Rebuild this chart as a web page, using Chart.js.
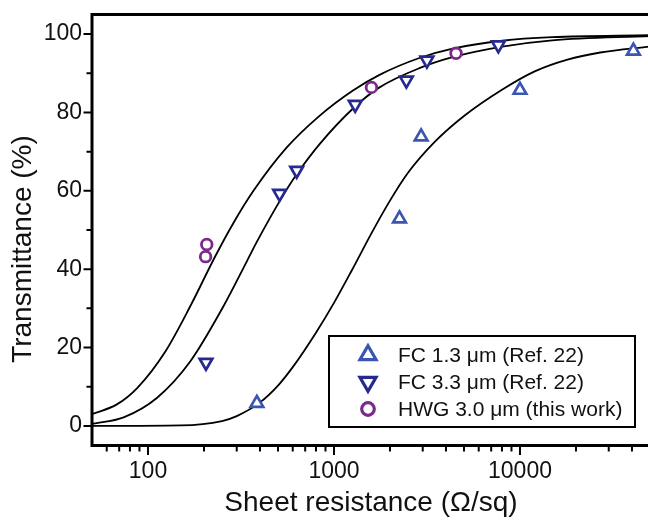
<!DOCTYPE html>
<html>
<head>
<meta charset="utf-8">
<script src="https://cdn.jsdelivr.net/npm/chart.js@4/dist/chart.umd.min.js"></script>
<style>
  html, body { margin: 0; padding: 0; background: #fff; overflow: hidden; }
  #wrap { width: 660px; height: 520px; }
</style>
</head>
<body>
<div id="wrap"><canvas id="chart" width="660" height="520"></canvas></div>
<script>
const FONT = '"Liberation Sans", Arial, Helvetica, sans-serif';

// --- Measured points (sheet resistance in ohm/sq, transmittance in %) ---
const fc13R = [385, 2250, 2940, 10000, 40700];
const fc13T = [5.8, 52.9, 73.8, 85.7, 95.7];

const fc33R = [205, 510, 630, 1300, 2450, 3160, 7650];
const fc33T = [16.2, 59.3, 65.2, 82.0, 88.2, 93.3, 97.2];

const hwgR = [204, 207, 1590, 4530];
const hwgT = [43.2, 46.3, 86.4, 95.1];

// --- Fitted curves ---
const fitAR = [50, 68, 88, 124, 169, 230, 288, 369, 556, 839, 1265, 1757, 2877, 4340, 8035, 14900, 50000];
const fitAT = [3.0, 5.5, 9.8, 19.0, 30.6, 43.3, 51.8, 60.0, 71.0, 79.2, 85.6, 89.6, 93.9, 96.3, 98.3, 99.2, 99.7];

const fitBR = [50, 74, 112, 169, 255, 340, 384, 523, 630, 839, 1291, 1757, 2877, 4340, 8035, 14900, 50000];
const fitBT = [0.5, 2.2, 7.2, 16.5, 30.6, 42.0, 46.9, 58.2, 64.2, 72.0, 81.4, 86.4, 91.3, 94.1, 96.8, 98.4, 99.5];

const fitCR = [50, 150, 250, 300, 400, 500, 600, 800, 1000, 1250, 1600, 2000, 2500, 3500, 5000, 8000, 12000, 18000, 27000, 50000];
const fitCT = [0, 0.14, 1.25, 2.5, 6.0, 10.3, 15.0, 23.8, 31.4, 39.8, 49.4, 57.5, 64.6, 72.6, 79.1, 85.8, 90.5, 93.5, 95.3, 96.8];

// --- Axis ticks ---
const xTicks = [100, 1000, 10000];
const yTicks = [0, 20, 40, 60, 80, 100];

const legendItems = [
  { label: 'FC 1.3 \u03bcm (Ref. 22)', style: 'up', color: '#3a55b2' },
  { label: 'FC 3.3 \u03bcm (Ref. 22)', style: 'down', color: '#27298f' },
  { label: 'HWG 3.0 \u03bcm (this work)', style: 'circle', color: '#7b2a8b' }
];

function pts(xs, ys) {
  return xs.map((x, i) => ({ x: x, y: ys[i] }));
}

function drawMarker(ctx, style, x, y, r, color, lw) {
  ctx.save();
  ctx.strokeStyle = color;
  ctx.fillStyle = '#fff';
  ctx.lineWidth = lw;
  ctx.beginPath();
  if (style === 'circle') {
    ctx.arc(x, y, r, 0, Math.PI * 2);
  } else {
    const d = style === 'up' ? 1 : -1;
    const s = Math.sin(Math.PI / 3) * r;
    ctx.moveTo(x, y - d * r);
    ctx.lineTo(x + s, y + d * r / 2);
    ctx.lineTo(x - s, y + d * r / 2);
    ctx.closePath();
  }
  ctx.fill();
  ctx.stroke();
  ctx.restore();
}

// frame, hand-drawn tick marks, y title and legend box
const decorPlugin = {
  id: 'decor',
  afterDraw(chart) {
    const ctx = chart.ctx;
    const a = chart.chartArea;
    const xs = chart.scales.x, ys = chart.scales.y;
    ctx.save();
    ctx.strokeStyle = '#000';
    ctx.lineCap = 'butt';

    // tick marks
    ctx.lineWidth = 2;
    ctx.beginPath();
    for (let d = 10; d <= 10000; d *= 10) {
      for (let k = 1; k <= 9; k++) {
        const v = k * d;
        if (v <= xs.min || v > xs.max) continue;
        const px = xs.getPixelForValue(v);
        const len = k === 1 ? 8 : 4.5;
        ctx.moveTo(px, a.bottom);
        ctx.lineTo(px, a.bottom + 1.5 + len);
      }
    }
    for (let v = 0; v <= 100; v += 10) {
      const py = ys.getPixelForValue(v);
      const len = v % 20 === 0 ? 7 : 4;
      ctx.moveTo(a.left, py);
      ctx.lineTo(a.left - 1.5 - len, py);
    }
    ctx.stroke();

    // frame
    ctx.lineWidth = 3;
    ctx.beginPath();
    ctx.moveTo(a.right, a.top);
    ctx.lineTo(a.left, a.top);
    ctx.lineTo(a.left, a.bottom);
    ctx.lineTo(a.right, a.bottom);
    ctx.lineTo(a.right, a.top);
    ctx.stroke();

    // y title
    ctx.save();
    ctx.translate(31, 249);
    ctx.rotate(-Math.PI / 2);
    ctx.fillStyle = '#111';
    ctx.font = '28px ' + FONT;
    ctx.textAlign = 'center';
    ctx.textBaseline = 'alphabetic';
    ctx.fillText('Transmittance (%)', 0, 0);
    ctx.restore();

    // legend
    ctx.fillStyle = '#fff';
    ctx.fillRect(329, 336, 306, 91);
    ctx.lineWidth = 2;
    ctx.strokeRect(329, 336, 306, 91);
    ctx.font = '21px ' + FONT;
    ctx.textAlign = 'left';
    ctx.textBaseline = 'middle';
    legendItems.forEach((it, i) => {
      const y = 355 + i * 27;
      const r = it.style === 'circle' ? 6.3 : 9.3;
      drawMarker(ctx, it.style, 368, y, r, it.color, 3.2);
      ctx.fillStyle = '#111';
      ctx.fillText(it.label, 398, y + 1);
    });
    ctx.restore();
  }
};

const curveStyle = {
  showLine: true,
  borderColor: '#000',
  borderWidth: 1.8,
  pointRadius: 0,
  cubicInterpolationMode: 'monotone',
  order: 2
};

new Chart(document.getElementById('chart').getContext('2d'), {
  type: 'scatter',
  data: {
    datasets: [
      {
        data: pts(fc13R, fc13T),
        pointStyle: 'triangle',
        pointRadius: 7.3,
        pointBorderWidth: 2.7,
        pointBorderColor: legendItems[0].color,
        pointBackgroundColor: '#fff',
        order: 0
      },
      {
        data: pts(fc33R, fc33T),
        pointStyle: 'triangle',
        pointRotation: 180,
        pointRadius: 7.3,
        pointBorderWidth: 2.7,
        pointBorderColor: legendItems[1].color,
        pointBackgroundColor: '#fff',
        order: 0
      },
      {
        data: pts(hwgR, hwgT),
        pointStyle: 'circle',
        pointRadius: 5.3,
        pointBorderWidth: 2.8,
        pointBorderColor: legendItems[2].color,
        pointBackgroundColor: '#fff',
        order: 0
      },
      Object.assign({ data: pts(fitAR, fitAT) }, curveStyle),
      Object.assign({ data: pts(fitBR, fitBT) }, curveStyle),
      Object.assign({ data: pts(fitCR, fitCT) }, curveStyle)
    ]
  },
  options: {
    responsive: false,
    animation: false,
    events: [],
    layout: { padding: { top: 14.5, right: 8.5, bottom: 0, left: 0 } },
    plugins: { legend: { display: false }, tooltip: { enabled: false } },
    scales: {
      x: {
        type: 'logarithmic',
        min: 50,
        max: 50000,
        afterBuildTicks: s => { s.ticks = xTicks.map(v => ({ value: v })); },
        afterFit: s => {
          s.height = 74.5;
          s.paddingLeft = 0;
          s.paddingRight = 0;
        },
        grid: { display: false, drawTicks: false },
        border: { display: false },
        ticks: {
          autoSkip: false,
          maxRotation: 0,
          padding: 12,
          color: '#111',
          font: { size: 23, family: FONT },
          callback: v => String(v)
        },
        title: {
          display: true,
          text: 'Sheet resistance (\u03a9/sq)',
          color: '#111',
          font: { size: 28, family: FONT },
          padding: 0
        }
      },
      y: {
        min: -5,
        max: 105,
        afterBuildTicks: s => { s.ticks = yTicks.map(v => ({ value: v })); },
        afterFit: s => {
          s.width = 92;
          s.paddingTop = 0;
          s.paddingBottom = 0;
        },
        grid: { display: false, drawTicks: false },
        border: { display: false },
        ticks: {
          padding: 10,
          color: '#111',
          font: { size: 23, family: FONT },
          callback: v => String(v)
        }
      }
    }
  },
  plugins: [decorPlugin]
});
</script>
</body>
</html>
